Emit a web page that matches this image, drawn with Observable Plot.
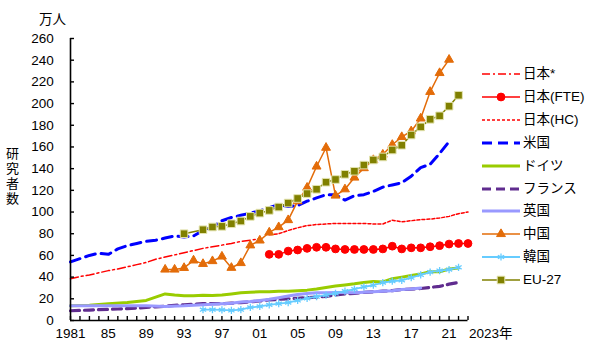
<!DOCTYPE html>
<html><head><meta charset="utf-8">
<script src="https://cdn.jsdelivr.net/npm/d3@7"></script>
<script src="https://cdn.jsdelivr.net/npm/@observablehq/plot@0.6"></script>
<style>
html,body{margin:0;padding:0;background:#fff;}
#wrap{position:relative;width:600px;height:354px;overflow:hidden;font-family:"Liberation Sans",Arial,"Noto Sans CJK JP",sans-serif;color:#000;}
#wrap svg.plot{position:absolute;left:0;top:0;}
.unit{position:absolute;left:39px;top:8px;font-size:13.5px;line-height:20px;font-family:"Noto Sans CJK JP",sans-serif;}
.ytitle{position:absolute;left:5px;top:147px;writing-mode:vertical-rl;text-orientation:upright;font-size:13px;line-height:15px;letter-spacing:1.7px;font-family:"Noto Sans CJK JP",sans-serif;}
.lg{position:absolute;left:482px;height:16px;white-space:nowrap;}
.lg svg{position:absolute;left:0;top:2px;}
.lg span{position:absolute;left:41px;top:-2px;font-size:13.5px;line-height:20px;font-family:"Liberation Sans",Arial,"Noto Sans CJK JP",sans-serif;}
</style></head>
<body><div id="wrap"></div>
<script>
// ---- tick labels ----
const yTicks = [0,20,40,60,80,100,120,140,160,180,200,220,240,260];
const xTickYears = [1981,1985,1989,1993,1997,2001,2005,2009,2013,2017,2021];
const xTickLabels = ["1981","85","89","93","97","01","05","09","13","17","21"];
const endLabel = [{year: 2023, text: "2023年"}];
const unitLabel = "万人";
const yTitle = "研究者数";

// ---- series values (year, 万人) ----
const japanStar = [[1981,38.5],[1982,40.5],[1983,42],[1984,44],[1985,46],[1986,47.5],[1987,49.5],[1988,51.5],[1989,53.5],[1990,56.5],[1991,58.5],[1992,60.5],[1993,62.5],[1994,64.5],[1995,66.5],[1996,68],[1997,69.5],[1998,71],[1999,73],[2000,74],[2001,75.5]];
const japanFTE = [[2002,61],[2003,61],[2004,64],[2005,65],[2006,66.5],[2007,67.5],[2008,67.5],[2009,66],[2010,65.5],[2011,65.5],[2012,65.5],[2013,65.5],[2014,66],[2015,68.5],[2016,66],[2017,67],[2018,67],[2019,68],[2020,69],[2021,70.5],[2022,71],[2023,71]];
const japanHC = [[2002,79],[2003,80],[2004,83],[2005,85.5],[2006,87.5],[2007,88.5],[2008,89],[2009,89.5],[2010,89.5],[2011,89.5],[2012,89.5],[2013,89],[2014,89],[2015,92.5],[2016,91],[2017,92],[2018,93],[2019,93.5],[2020,94.5],[2021,96],[2022,98.5],[2023,100]];
const usa = [[1981,54],[1982,57],[1983,60],[1984,62],[1985,61],[1986,66],[1987,69],[1988,71],[1989,73],[1990,74],[1991,76],[1992,78],[1993,77],[1994,78],[1995,83],[1996,86],[1997,92],[1998,95],[1999,97],[2000,99],[2001,101],[2002,104],[2003,107],[2004,105],[2005,106],[2006,110],[2007,113],[2008,116],[2009,116],[2010,111],[2011,115],[2012,116],[2013,119],[2014,123],[2015,125],[2016,127],[2017,133],[2018,141],[2019,144],[2020,154],[2021,165]];
const germany = [[1981,13.5],[1983,14],[1985,15.5],[1987,16.5],[1989,18.5],[1991,24.5],[1992,23.5],[1993,22.8],[1994,22.8],[1995,23.2],[1996,23],[1997,23.5],[1998,24.5],[1999,25.5],[2000,26],[2001,26.5],[2002,26.5],[2003,27],[2004,27],[2005,27.5],[2006,28],[2007,29],[2008,30.5],[2009,31.8],[2010,32.8],[2011,33.8],[2012,35],[2013,36],[2014,35.5],[2015,38.5],[2016,40],[2017,41.5],[2018,43],[2019,45],[2020,45],[2021,47.5],[2022,48.5]];
const france = [[1981,9],[1982,9.3],[1983,9.6],[1984,10],[1985,10.3],[1986,10.6],[1987,11],[1988,11.5],[1989,12],[1990,12.6],[1991,13.2],[1992,14],[1993,14.5],[1994,15],[1995,15.5],[1996,15.5],[1997,15.5],[1998,16],[1999,16.5],[2000,17.2],[2001,18],[2002,19],[2003,19.5],[2004,20],[2005,20.5],[2006,21],[2007,21.5],[2008,22.2],[2009,23.5],[2010,24.5],[2011,25],[2012,26],[2013,26.5],[2014,27],[2015,27.5],[2016,28.5],[2017,29],[2018,29.5],[2019,30.5],[2020,31.5],[2021,33.5],[2022,35]];
const uk = [[1981,13.5],[1983,13.5],[1985,13.5],[1987,13.5],[1989,13.5],[1991,13],[1993,13.5],[1995,14.5],[1997,15.5],[1998,16],[1999,17],[2000,17.5],[2001,18.5],[2002,19.5],[2003,21],[2004,22.5],[2005,24],[2006,25],[2007,25.5],[2008,25.5],[2009,25.8],[2010,25.8],[2011,25.5],[2012,26],[2013,26.5],[2014,27],[2015,27.5],[2016,28.5],[2017,29],[2018,30]];
const china = [[1991,47],[1992,47],[1993,48.5],[1994,55.4],[1995,52.2],[1996,54.8],[1997,59],[1998,48.6],[1999,53],[2000,69.3],[2001,73.8],[2002,81.2],[2003,86.1],[2004,92.6],[2005,110],[2006,122.5],[2007,142],[2008,159.3],[2009,115.2],[2010,121],[2011,131.8],[2012,140.5],[2013,148],[2014,153],[2015,162],[2016,169.2],[2017,174.5],[2018,186.3],[2019,210.8],[2020,228.2],[2021,240.5]];
const korea = [[1995,10],[1996,10],[1997,9.8],[1998,9.3],[1999,10],[2000,12],[2001,13],[2002,14.5],[2003,15.5],[2004,16.5],[2005,18.5],[2006,20.5],[2007,22],[2008,23.5],[2009,25],[2010,27],[2011,29],[2012,31],[2013,32.5],[2014,35],[2015,36.2],[2016,37],[2017,39.5],[2018,42],[2019,44.5],[2020,46],[2021,47],[2022,49]];
const eu27 = [[1993,80],[1995,83.7],[1996,86.2],[1997,86.8],[1998,89.2],[1999,91.7],[2000,96],[2001,99],[2002,101.5],[2003,104.6],[2004,108.3],[2005,112.5],[2006,117],[2007,121],[2008,127.5],[2009,130],[2010,134.8],[2011,137.6],[2012,143.3],[2013,148],[2014,150.8],[2015,157.2],[2016,161.6],[2017,171],[2018,178.5],[2019,185.5],[2020,188.7],[2021,197.6],[2022,207.7]];

// ---- styling per series ----
const series = [
  {name:"日本*", data:japanStar, color:"#ff0000", width:1.5, dash:"8,3,2,3"},
  {name:"日本(FTE)", data:japanFTE, color:"#ff0000", width:1.5, dash:null, symbol:"circle", r:3.9, fill:"#ff0000", mstroke:"#ff0000"},
  {name:"日本(HC)", data:japanHC, color:"#ff0000", width:1.5, dash:"3,2"},
  {name:"米国", data:usa, color:"#0000ff", width:3, dash:"10,6"},
  {name:"ドイツ", data:germany, color:"#99cc00", width:3, dash:null},
  {name:"フランス", data:france, color:"#602c8f", width:3.2, dash:"9,5"},
  {name:"英国", data:uk, color:"#9999ff", width:3, dash:null},
  {name:"中国", data:china, color:"#e36c09", width:1.5, dash:null, symbol:"triangle", r:3.3, fill:"#e36c09", mstroke:"#e36c09"},
  {name:"韓国", data:korea, color:"#66ccff", width:1.8, dash:null, symbol:"asterisk", r:3.4, fill:"none", mstroke:"#66ccff"},
  {name:"EU-27", data:eu27, color:"#808000", width:1.5, dash:null, symbol:"square", r:4.3, fill:"#808000", mstroke:"#e4e4b0"}
];

const W = 600, H = 354;
const marks = [];
for (const s of series) {
  marks.push(Plot.line(s.data, {x: d => d[0], y: d => d[1], stroke: s.color, strokeWidth: s.width, strokeDasharray: s.dash || undefined}));
  if (s.symbol) {
    marks.push(Plot.dot(s.data, {x: d => d[0], y: d => d[1], symbol: s.symbol, r: s.r, fill: s.fill, stroke: s.mstroke, strokeWidth: s.symbol === "asterisk" ? 1.3 : 1}));
  }
}
marks.push(Plot.ruleX([xTickYears[0]], {stroke:"#000", strokeWidth:1.6}));
marks.push(Plot.ruleY([yTicks[0]], {stroke:"#000", strokeWidth:1.6}));
marks.push(Plot.axisY(yTicks, {tickSize:-4, tickPadding:20.7, stroke:"#000", strokeWidth:1.4, label:null, fontSize:13.5}));
marks.push(Plot.axisX(d3.range(xTickYears[0], endLabel[0].year + 1), {tickSize:-4, stroke:"#000", strokeWidth:1.4, tickFormat:() => "", label:null}));
marks.push(Plot.axisX(xTickYears, {tickSize:0, tickPadding:8, tickFormat:(d) => xTickLabels[xTickYears.indexOf(d)], label:null, fontSize:13.5}));
marks.push(Plot.text(endLabel, {x:"year", text:"text", frameAnchor:"bottom", textAnchor:"start", lineAnchor:"top", dy:8, dx:1, fontSize:13.5}));

const chart = Plot.plot({
  width: W, height: H,
  marginLeft: 70, marginRight: 132.5, marginTop: 38, marginBottom: 34,
  x: {domain: [1981, 2023]},
  y: {domain: [0, 260]},
  style: {fontFamily: '"Liberation Sans", Arial, "Noto Sans CJK JP", sans-serif', fontSize: "13.5px", color: "#000", background: "transparent", overflow: "visible"},
  marks
});
chart.classList.add("plot");
const wrap = document.getElementById("wrap");
wrap.appendChild(chart);

// titles
const u = document.createElement("div"); u.className = "unit"; u.textContent = unitLabel; wrap.appendChild(u);
const yt = document.createElement("div"); yt.className = "ytitle"; yt.textContent = yTitle; wrap.appendChild(yt);

// legend
const symMap = {circle: d3.symbolCircle, triangle: d3.symbolTriangle, asterisk: d3.symbolAsterisk, square: d3.symbolSquare};
series.forEach((s, i) => {
  const row = document.createElement("div");
  row.className = "lg";
  row.style.top = (74 + i * 22.9 - 8) + "px";
  const svg = d3.create("svg").attr("width", 40).attr("height", 12);
  svg.append("line").attr("x1", 0).attr("x2", 38).attr("y1", 6).attr("y2", 6)
    .attr("stroke", s.color).attr("stroke-width", s.width).attr("stroke-dasharray", s.dash || null);
  if (s.symbol) {
    svg.append("path").attr("transform", "translate(19,6)")
      .attr("d", d3.symbol(symMap[s.symbol], Math.PI * s.r * s.r)())
      .attr("fill", s.fill).attr("stroke", s.mstroke).attr("stroke-width", s.symbol === "asterisk" ? 1.3 : 1);
  }
  row.appendChild(svg.node());
  const t = document.createElement("span"); t.textContent = s.name; row.appendChild(t);
  wrap.appendChild(row);
});
</script></body></html>
